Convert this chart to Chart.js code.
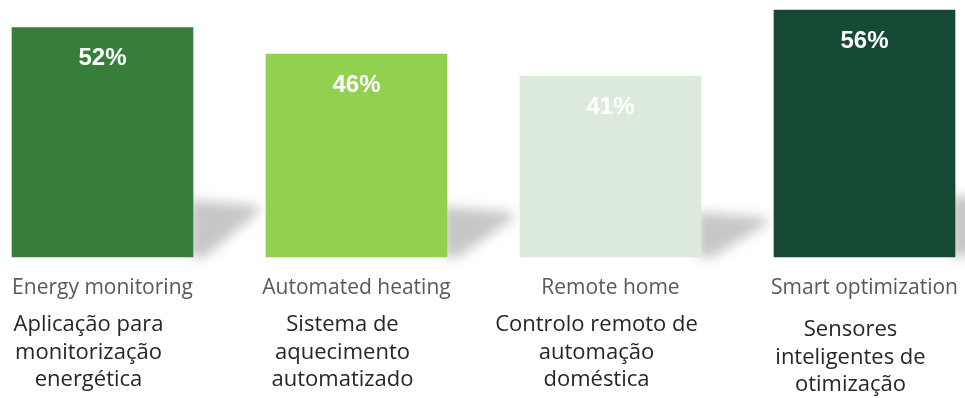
<!DOCTYPE html>
<html>
<head>
<meta charset="utf-8">
<script src="https://cdn.jsdelivr.net/npm/chart.js@4"></script>
<style>
  html, body { margin: 0; padding: 0; background: #fff; }
  #wrap { width: 965px; height: 398px; position: relative; }
</style>
</head>
<body>
<div id="wrap"><canvas id="bar-chart"></canvas></div>
<script>
var categories = ["Energy monitoring", "Automated heating", "Remote home", "Smart optimization"];
var descriptions = [
  ["Aplicação para", "monitorização", "energética"],
  ["Sistema de", "aquecimento", "automatizado"],
  ["Controlo remoto de", "automação", "doméstica"],
  ["Sensores", "inteligentes de", "otimização"]
];
var values = [52, 46, 41, 56];
var barColors = ["#367E3A", "#92D050", "#DCEADC", "#174A35"];

var labelFont = "'Open Sans', 'Noto Sans', sans-serif";

// soft grey shadow falling to the right of each bar
var shadowPlugin = {
  id: 'barShadow',
  beforeDatasetsDraw: function(chart){
    var ctx = chart.ctx;
    var bars = chart.getDatasetMeta(0).data;
    ctx.save();
    ctx.filter = 'blur(6px)';
    ctx.fillStyle = 'rgba(180,180,180,0.75)';
    for(var i=0; i<bars.length; i++){
      var b = bars[i];
      var right = b.x + b.width/2;
      var h = b.base - b.y;
      var top = b.base - h*0.25;
      ctx.beginPath();
      ctx.moveTo(right - 4, top);
      ctx.lineTo(right + 66, top + 6);
      ctx.lineTo(right + 66, top + 12);
      ctx.lineTo(right + 12, b.base);
      ctx.lineTo(right - 4, b.base);
      ctx.closePath();
      ctx.fill();
    }
    ctx.restore();
  }
};

var labelPlugin = {
  id: 'barLabels',
  afterDatasetsDraw: function(chart){
    var ctx = chart.ctx;
    var bars = chart.getDatasetMeta(0).data;
    var xScale = chart.scales.x;
    ctx.save();
    ctx.textAlign = 'center';
    ctx.textBaseline = 'middle';
    for(var i=0; i<bars.length; i++){
      var b = bars[i];
      ctx.fillStyle = '#ffffff';
      ctx.font = "bold 24px 'Liberation Sans', Arial, sans-serif";
      ctx.fillText(values[i] + '%', b.x, b.y + 31);

      var cx = xScale.getPixelForValue(i);
      ctx.fillStyle = '#595959';
      ctx.font = "21px " + labelFont;
      ctx.fillText(categories[i], cx, 288);

      ctx.fillStyle = '#262626';
      ctx.font = "22px " + labelFont;
      var y0 = (i === 3) ? 330 : 325;
      for(var j=0; j<descriptions[i].length; j++){
        ctx.fillText(descriptions[i][j], cx - 14, y0 + j*27.5);
      }
    }
    ctx.restore();
  }
};

var context = document.getElementById('bar-chart').getContext('2d');
var chart = new Chart(context, {
  type: 'bar',
  data: {
    labels: categories,
    datasets: [{
      data: values,
      backgroundColor: barColors,
      borderWidth: 0,
      barThickness: 181,
      clip: false
    }]
  },
  options: {
    responsive: true,
    maintainAspectRatio: false,
    animation: false,
    layout: { padding: { left: 102.5, right: 100.5, top: 10, bottom: 141 } },
    plugins: {
      legend: { display: false },
      tooltip: { enabled: false }
    },
    scales: {
      x: { display: false, offset: false },
      y: { display: false, min: 0, max: 56 }
    }
  },
  plugins: [shadowPlugin, labelPlugin]
});
</script>
</body>
</html>
